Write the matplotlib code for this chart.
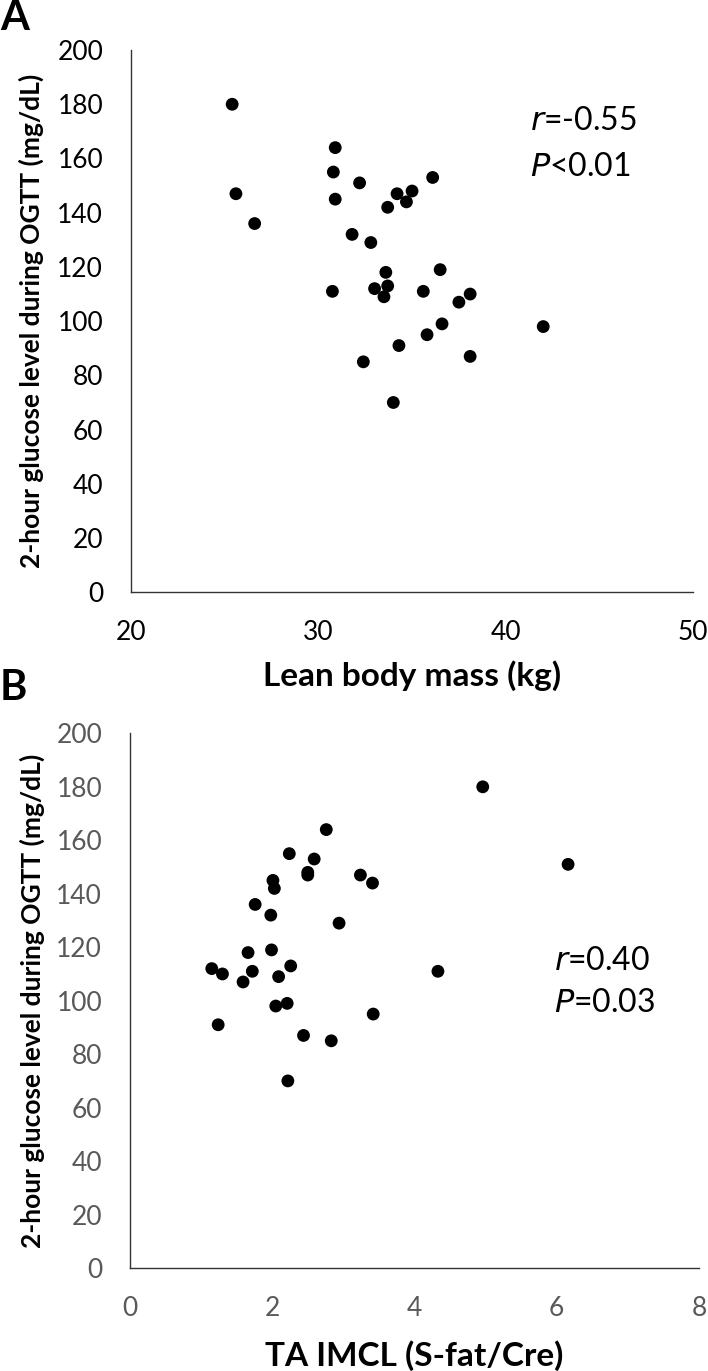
import matplotlib
matplotlib.use("Agg")
import matplotlib.pyplot as plt

# ---------- data ----------
# Panel A: lean body mass (kg) vs 2-hour glucose (mg/dL)
lbm_kg = [25.4, 25.6, 26.6, 30.9, 30.8, 32.2, 30.9, 34.2, 35.0, 36.1,
          33.7, 34.7, 31.8, 32.8, 33.6, 36.5, 30.75, 33.0, 33.7, 33.5,
          35.6, 37.5, 38.1, 36.6, 42.0, 35.8, 34.3, 32.4, 38.1, 34.0]
glucose_a = [180, 147, 136, 164, 155, 151, 145, 147, 148, 153,
             142, 144, 132, 129, 118, 119, 111, 112, 113, 109,
             111, 107, 110, 99, 98, 95, 91, 85, 87, 70]

# Panel B: TA IMCL (S-fat/Cre) vs 2-hour glucose (mg/dL)
ta_imcl = [4.96, 2.76, 2.24, 2.59, 6.16, 2.50, 2.50, 3.24, 3.41, 2.01,
           2.03, 1.76, 1.98, 2.94, 1.66, 1.99, 1.15, 1.30, 1.72, 2.26,
           1.59, 2.09, 4.33, 2.05, 2.21, 1.24, 3.42, 2.44, 2.83, 2.22]
glucose_b = [180, 164, 155, 153, 151, 148, 147, 147, 144, 145,
             142, 136, 132, 129, 118, 119, 112, 110, 111, 113,
             107, 109, 111, 98, 99, 91, 95, 87, 85, 70]

y_ticks = [0, 20, 40, 60, 80, 100, 120, 140, 160, 180, 200]
x_ticks_a = [20, 30, 40, 50]
x_ticks_b = [0, 2, 4, 6, 8]

ylabel = "2-hour glucose level during OGTT (mg/dL)"
FONT = ["Lato", "DejaVu Sans"]
plt.rcParams["font.family"] = FONT

fig = plt.figure(figsize=(7.08, 13.71), dpi=100)


def panel(ax, x, y, xticks, xlabel, tick_color, ylab_x, xlab_y):
    ax.scatter(x, y, s=85, color="black", edgecolors="none", zorder=3)
    ax.set_xlim(xticks[0], xticks[-1])
    ax.set_ylim(0, 200)
    ax.set_xticks(xticks)
    ax.set_yticks(y_ticks)
    for s in ["top", "right"]:
        ax.spines[s].set_visible(False)
    for s in ["left", "bottom"]:
        ax.spines[s].set_color("#333333")
        ax.spines[s].set_linewidth(1.0)
    ax.tick_params(length=0, labelsize=19, colors=tick_color)
    ax.tick_params(axis="y", pad=20)
    ax.tick_params(axis="x", pad=20)
    ax.set_xlabel(xlabel, fontsize=24, fontweight="bold")
    ax.xaxis.set_label_coords(0.5, xlab_y)
    ax.set_ylabel(ylabel, fontsize=19, fontweight="bold")
    ax.yaxis.set_label_coords(ylab_x, 0.5)


# ---------- A ----------
ax1 = fig.add_axes([0.185, 0.568, 0.794, 0.3955])
panel(ax1, lbm_kg, glucose_a, x_ticks_a, "Lean body mass (kg)", "black", -0.155, -0.125)
ax1.text(0.71, 0.87, r"$\it{r}$=-0.55", transform=ax1.transAxes, fontsize=23, va="center")
ax1.text(0.71, 0.785, r"$\it{P}$<0.01", transform=ax1.transAxes, fontsize=23, va="center")
fig.text(0.0, 0.987, "A", fontsize=30, fontweight="bold", va="center")

# ---------- B ----------
ax2 = fig.add_axes([0.1836, 0.0751, 0.8036, 0.390])
panel(ax2, ta_imcl, glucose_b, x_ticks_b, "TA IMCL (S-fat/Cre)", "#595959", -0.15, -0.135)
ax2.text(0.745, 0.575, r"$\it{r}$=0.40", transform=ax2.transAxes, fontsize=23, va="center")
ax2.text(0.745, 0.495, r"$\it{P}$=0.03", transform=ax2.transAxes, fontsize=23, va="center")
fig.text(0.0, 0.4985, "B", fontsize=30, fontweight="bold", va="center")

fig.savefig("out.png", dpi=100)
